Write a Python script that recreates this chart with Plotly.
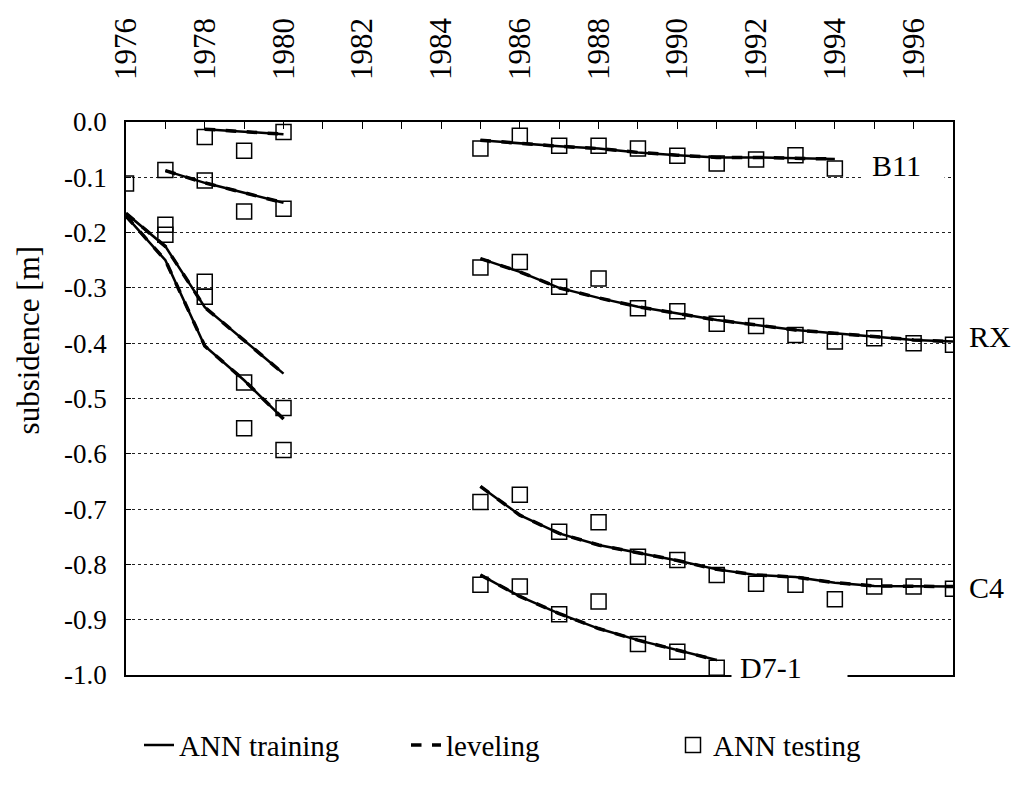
import plotly.graph_objects as go

# ---------------- data ----------------
tick_years = list(range(1976, 1998))
tick_labels = [str(y) if (y % 2 == 0 and y <= 1996) else "" for y in tick_years]
y_tick_vals = [0.0, -0.1, -0.2, -0.3, -0.4, -0.5, -0.6, -0.7, -0.8, -0.9, -1.0]
y_tick_labels = ["0.0", "-0.1", "-0.2", "-0.3", "-0.4", "-0.5", "-0.6", "-0.7", "-0.8", "-0.9", "-1.0"]

# early period (1976-1980)
e1_line_years = [1978, 1979, 1980]
e1_line = [-0.013, -0.017, -0.022]
e1_test_years = [1978, 1979, 1980]
e1_test = [-0.027, -0.052, -0.018]

e2_line_years = [1977, 1978, 1979, 1980]
e2_line = [-0.088, -0.110, -0.128, -0.146]
e2_test_years = [1976, 1977, 1978, 1979, 1980]
e2_test = [-0.111, -0.087, -0.106, -0.162, -0.157]

e3_line_years = [1976, 1977, 1978, 1979, 1980]
e3_line = [-0.165, -0.225, -0.335, -0.395, -0.455]
e3_test_years = [1977, 1978, 1979, 1980]
e3_test = [-0.186, -0.289, -0.471, -0.517]

e4_line_years = [1976, 1977, 1978, 1979, 1980]
e4_line = [-0.170, -0.250, -0.405, -0.467, -0.537]
e4_test_years = [1977, 1978, 1979, 1980]
e4_test = [-0.204, -0.316, -0.554, -0.593]

# later period
b11_years = list(range(1985, 1995))
b11_line = [-0.033, -0.039, -0.044, -0.048, -0.055, -0.060, -0.064, -0.064, -0.066, -0.067]
b11_test = [-0.048, -0.025, -0.043, -0.043, -0.048, -0.061, -0.075, -0.068, -0.060, -0.084]

rx_years = list(range(1985, 1998))
rx_line = [-0.247, -0.271, -0.300, -0.318, -0.334, -0.346, -0.358, -0.367, -0.376, -0.382, -0.388, -0.394, -0.397]
rx_test = [-0.263, -0.253, -0.298, -0.283, -0.337, -0.342, -0.365, -0.369, -0.385, -0.397, -0.391, -0.400, -0.403]

c4_years = list(range(1985, 1998))
c4_line = [-0.659, -0.711, -0.744, -0.765, -0.779, -0.793, -0.809, -0.819, -0.823, -0.833, -0.839, -0.839, -0.840]
c4_test = [-0.687, -0.674, -0.741, -0.724, -0.786, -0.792, -0.819, -0.835, -0.837, -0.863, -0.840, -0.840, -0.844]

d7_years = list(range(1985, 1992))
d7_line = [-0.819, -0.858, -0.889, -0.916, -0.937, -0.955, -0.973]
d7_test = [-0.837, -0.840, -0.890, -0.867, -0.944, -0.958, -0.987]

series = [
    (e1_line_years, e1_line, e1_test_years, e1_test),
    (e2_line_years, e2_line, e2_test_years, e2_test),
    (e3_line_years, e3_line, e3_test_years, e3_test),
    (e4_line_years, e4_line, e4_test_years, e4_test),
    (b11_years, b11_line, b11_years, b11_test),
    (rx_years, rx_line, rx_years, rx_test),
    (c4_years, c4_line, c4_years, c4_test),
    (d7_years, d7_line, d7_years, d7_test),
]

FONT = "'Liberation Serif', 'Times New Roman', Times, serif"

fig = go.Figure()
for i, (lx, ly, tx, ty) in enumerate(series):
    fig.add_trace(go.Scatter(x=lx, y=ly, mode="lines", name="ANN training",
                             legendgroup="train", showlegend=(i == 0),
                             line=dict(color="black", width=2.5)))
for i, (lx, ly, tx, ty) in enumerate(series):
    fig.add_trace(go.Scatter(x=lx, y=ly, mode="lines", name="leveling",
                             legendgroup="lev", showlegend=(i == 0),
                             line=dict(color="black", width=3.5, dash="dash")))
for i, (lx, ly, tx, ty) in enumerate(series):
    fig.add_trace(go.Scatter(x=tx, y=ty, mode="markers", name="ANN testing",
                             legendgroup="test", showlegend=(i == 0),
                             marker=dict(symbol="square-open", size=15, color="black",
                                         line=dict(width=1.5, color="black"))))

fig.update_xaxes(range=[1976, 1997], side="top", tickmode="array",
                 tickvals=tick_years, ticktext=tick_labels, tickangle=-90,
                 ticks="inside", ticklen=7, tickcolor="black", tickwidth=1,
                 ticklabelstandoff=34,
                 showline=True, linecolor="black", linewidth=1.5, mirror=True,
                 showgrid=False, zeroline=False,
                 tickfont=dict(family=FONT, size=31, color="black"))
fig.update_yaxes(range=[-1.0, 0.0], tickmode="array",
                 tickvals=y_tick_vals, ticktext=y_tick_labels,
                 ticks="inside", ticklen=5, tickcolor="black",
                 ticklabelstandoff=12,
                 showline=True, linecolor="black", linewidth=1.5, mirror=True,
                 showgrid=True, gridcolor="#222", gridwidth=1, griddash="dot",
                 zeroline=False,
                 tickfont=dict(family=FONT, size=27, color="black"))

lab_font = dict(family=FONT, size=30, color="black")
fig.add_annotation(x=1994.72, y=-0.079, xref="x", yref="y", text="B11",
                   showarrow=False, xanchor="left", yanchor="middle", align="left",
                   width=64, borderpad=8, bgcolor="white", font=lab_font)
fig.add_annotation(x=1991.36, y=-0.987, xref="x", yref="y", text="D7-1",
                   showarrow=False, xanchor="left", yanchor="middle", align="left",
                   width=99, borderpad=8, bgcolor="white", font=lab_font)
fig.add_annotation(x=1997, y=-0.388, xref="x", yref="y", text="RX",
                   showarrow=False, xanchor="left", yanchor="middle", xshift=14,
                   font=lab_font)
fig.add_annotation(x=1997, y=-0.842, xref="x", yref="y", text="C4",
                   showarrow=False, xanchor="left", yanchor="middle", xshift=14,
                   font=lab_font)
fig.add_annotation(x=-0.1185, y=0.605, xref="paper", yref="paper",
                   text="subsidence [m]", textangle=-90, showarrow=False,
                   xanchor="center", yanchor="middle",
                   font=dict(family=FONT, size=31, color="black"))

fig.update_layout(
    width=1013, height=787,
    margin=dict(l=126, r=60, t=122, b=112),
    paper_bgcolor="white", plot_bgcolor="white",
    showlegend=True,
    legend=dict(orientation="h", x=0.5, xanchor="center", y=-0.127, yanchor="middle",
                font=dict(family=FONT, size=29, color="black"),
                entrywidth=222, entrywidthmode="pixels",
                bgcolor="rgba(0,0,0,0)"),
)

fig.write_html("out.html")
